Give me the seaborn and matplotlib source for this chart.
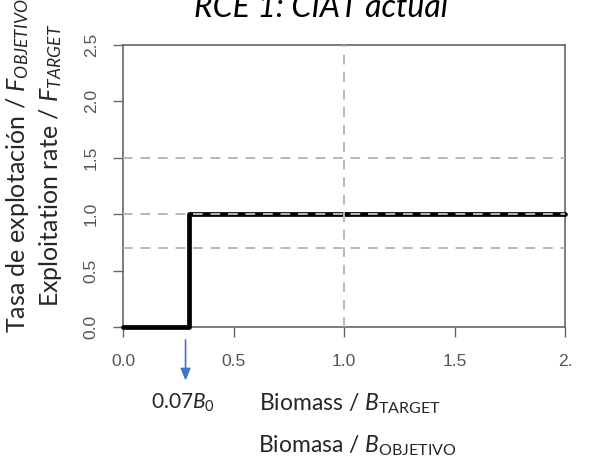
import matplotlib
matplotlib.use("Agg")
import matplotlib.pyplot as plt
import seaborn as sns
import pandas as pd

# Data
biomass = [0.0, 0.3, 0.3, 2.0]
rate = [0.0, 0.0, 1.0, 1.0]
ref_h = [0.7, 1.0, 1.5]
ref_v = [1.0]
x_ticks = [0.0, 0.5, 1.0, 1.5, 2.0]
x_ticklabels = ["0.0", "0.5", "1.0", "1.5", "2."]
y_ticks = [0.0, 0.5, 1.0, 1.5, 2.0, 2.5]
y_ticklabels = ["0.0", "0.5", "1.0", "1.5", "2.0", "2.5"]
step_point = 0.3

sns.set_theme(style="white")
plt.rcParams["font.family"] = ["Lato", "DejaVu Sans"]
plt.rcParams["mathtext.fontset"] = "custom"
plt.rcParams["mathtext.rm"] = "Lato"
plt.rcParams["mathtext.it"] = "Lato:italic"

df = pd.DataFrame({"B": biomass, "F": rate})

fig = plt.figure(figsize=(5.89, 4.66), dpi=100)
ax = fig.add_axes([123/589, 1-327/466, (565-123)/589, (327-45)/466])

sns.lineplot(data=df, x="B", y="F", sort=False, estimator=None, color="black",
             linewidth=3.4, ax=ax, zorder=3, clip_on=False)

for y in ref_h:
    ax.axhline(y, color="#b8b8b8", linestyle=(0, (5, 4)), linewidth=1.4, zorder=4)
for x in ref_v:
    ax.axvline(x, color="#b8b8b8", linestyle=(0, (5, 4)), linewidth=1.4, zorder=4)

ax.set_xlim(0, 2)
ax.set_ylim(0, 2.5)
ax.set_xticks(x_ticks)
ax.set_xticklabels(x_ticklabels)
ax.set_yticks(y_ticks)
ax.set_yticklabels(y_ticklabels, rotation=90, va="center")
tickfont = ["Liberation Sans Narrow", "Liberation Sans", "DejaVu Sans"]
for lab in ax.get_xticklabels() + ax.get_yticklabels():
    lab.set_family(tickfont)
    lab.set_fontsize(12.5)
    lab.set_color("#555555")
ax.tick_params(axis="x", direction="out", length=7.5, width=1, color="#666666",
               bottom=True, pad=12)
ax.tick_params(axis="y", direction="out", length=7.5, width=1, color="#666666",
               left=True, pad=10)
for s in ax.spines.values():
    s.set_color("#666666")
    s.set_linewidth(1.2)
ax.set_xlabel("")
ax.set_ylabel("")

# Title
fig.text(321/589, 1-17/466, "RCE 1: CIAT actual", ha="center", va="baseline",
         fontsize=23, style="italic", color="black")

# Y labels
fig.text(18/589, 1-166/466, r"Tasa de explotación / $\mathit{F}_{\mathit{OBJETIVO}}$",
         rotation=90, ha="center", va="center", fontsize=18)
fig.text(51/589, 1-165/466, r"Exploitation rate / $\mathit{F}_{\mathit{TARGET}}$",
         rotation=90, ha="center", va="center", fontsize=18)

# X labels
fig.text(350/589, 1-404/466, r"Biomass / $\mathit{B}_{\mathrm{TARGET}}$",
         ha="center", va="center", fontsize=16.5)
fig.text(357/589, 1-446/466, r"Biomasa / $\mathit{B}_{\mathrm{OBJETIVO}}$",
         ha="center", va="center", fontsize=16.5)
fig.text(183/589, 1-403/466, r"0.07$\mathit{B}_{0}$",
         ha="center", va="center", fontsize=15)

# Arrow
ax.annotate("", xy=(step_point - 0.017, -0.50), xytext=(step_point - 0.017, -0.09),
            xycoords="data", textcoords="data",
            arrowprops=dict(arrowstyle="-|>,head_width=0.25,head_length=0.6",
                            color="#4472C4", lw=1.2), annotation_clip=False)

fig.savefig("out.png", dpi=100)
